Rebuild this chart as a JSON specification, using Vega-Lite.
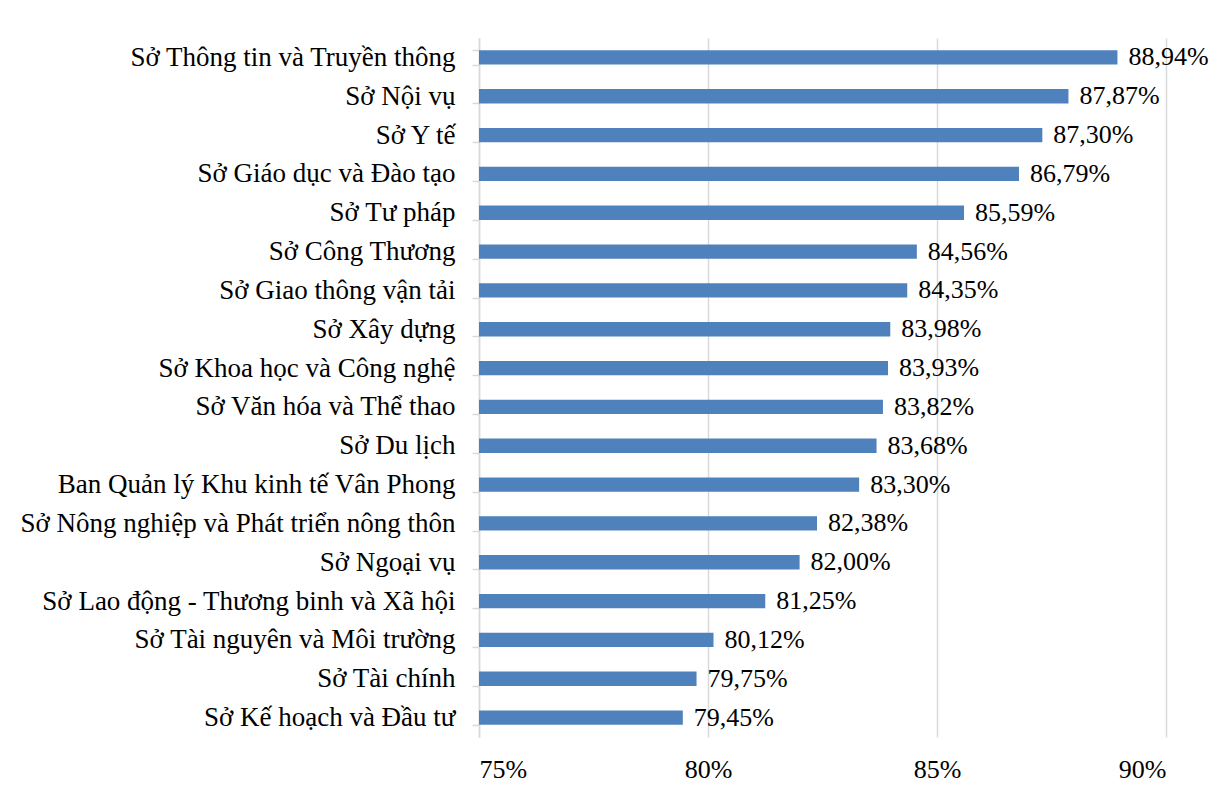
{
  "$schema": "https://vega.github.io/schema/vega-lite/v6.json",
  "autosize": "none",
  "width": 687,
  "height": 699,
  "padding": {"left": 479, "top": 38, "right": 56, "bottom": 55},
  "background": "white",
  "config": {
    "view": {"stroke": null},
    "font": "Liberation Serif",
    "locale": {"number": {"decimal": ",", "thousands": ".", "grouping": [3], "currency": ["", " €"]}}
  },
  "data": {
    "values": [
      {"don_vi": "Sở Thông tin và Truyền thông", "ty_le": 0.8894},
      {"don_vi": "Sở Nội vụ", "ty_le": 0.8787},
      {"don_vi": "Sở Y tế", "ty_le": 0.8730},
      {"don_vi": "Sở Giáo dục và Đào tạo", "ty_le": 0.8679},
      {"don_vi": "Sở Tư pháp", "ty_le": 0.8559},
      {"don_vi": "Sở Công Thương", "ty_le": 0.8456},
      {"don_vi": "Sở Giao thông vận tải", "ty_le": 0.8435},
      {"don_vi": "Sở Xây dựng", "ty_le": 0.8398},
      {"don_vi": "Sở Khoa học và Công nghệ", "ty_le": 0.8393},
      {"don_vi": "Sở Văn hóa và Thể thao", "ty_le": 0.8382},
      {"don_vi": "Sở Du lịch", "ty_le": 0.8368},
      {"don_vi": "Ban Quản lý Khu kinh tế Vân Phong", "ty_le": 0.8330},
      {"don_vi": "Sở Nông nghiệp và Phát triển nông thôn", "ty_le": 0.8238},
      {"don_vi": "Sở Ngoại vụ", "ty_le": 0.8200},
      {"don_vi": "Sở Lao động - Thương binh và Xã hội", "ty_le": 0.8125},
      {"don_vi": "Sở Tài nguyên và Môi trường", "ty_le": 0.8012},
      {"don_vi": "Sở Tài chính", "ty_le": 0.7975},
      {"don_vi": "Sở Kế hoạch và Đầu tư", "ty_le": 0.7945}
    ]
  },
  "encoding": {
    "y": {
      "field": "don_vi",
      "type": "nominal",
      "sort": null,
      "title": null,
      "scale": {"paddingInner": 0.63, "paddingOuter": 0.315},
      "axis": {
        "domainColor": "#d9d9d9",
        "domainWidth": 1.5,
        "tickColor": "#d9d9d9",
        "tickWidth": 1.5,
        "tickSize": 7,
        "tickBand": "extent",
        "labelFont": "Liberation Serif",
        "labelFontSize": 27,
        "labelColor": "#000000",
        "labelPadding": 17,
        "labelLimit": 600
      }
    },
    "x": {
      "field": "ty_le",
      "type": "quantitative",
      "title": null,
      "scale": {"domain": [0.75, 0.90], "zero": false, "nice": false},
      "axis": {
        "values": [0.75, 0.80, 0.85, 0.90],
        "format": ".0%",
        "domain": false,
        "ticks": false,
        "grid": true,
        "gridColor": "#d9d9d9",
        "gridWidth": 1.5,
        "labelFont": "Liberation Serif",
        "labelFontSize": 26,
        "labelColor": "#000000",
        "labelPadding": 19
      }
    }
  },
  "layer": [
    {
      "mark": {"type": "bar", "color": "#4f81bd"},
      "encoding": {"x2": {"datum": 0.75}}
    },
    {
      "mark": {"type": "text", "align": "left", "baseline": "middle", "dx": 11, "font": "Liberation Serif", "fontSize": 26, "color": "#000000"},
      "encoding": {"text": {"field": "ty_le", "type": "quantitative", "format": ".2%"}}
    }
  ]
}
